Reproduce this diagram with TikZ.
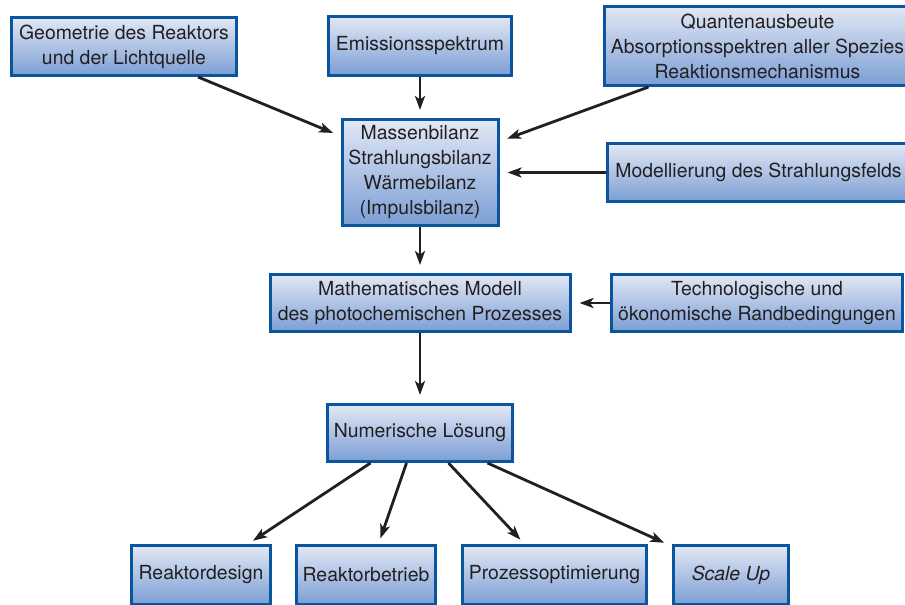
\documentclass[tikz,border=0pt]{standalone}
\usepackage{fontspec}
\setmainfont{TeX Gyre Heros}
\usepackage{tikz}
\usetikzlibrary{arrows.meta, positioning}
\definecolor{boxline}{HTML}{0B559F}
\definecolor{boxtop}{HTML}{E2E8F5}
\definecolor{boxbottom}{HTML}{7B9ED4}
\definecolor{ink}{HTML}{231F20}
\tikzstyle{arrow} = [line width=2.8pt, draw=ink, -{Stealth[length=14pt, width=10pt, inset=3.5pt]}, shorten >=8pt]

\begin{document}
\begin{tikzpicture}[x=1pt, y=-1pt,
		box/.style={rectangle, draw=boxline, line width=3pt, top color=boxtop, bottom color=boxbottom, text=ink, align=center, inner sep=0pt, font=\fontsize{19.4}{25}\selectfont},
		result/.style={box, minimum height=59pt}]
		\clip (0,0) rectangle (905,605);
		
		\node (geo) [box, minimum width=225pt, minimum height=58pt] at (124,46.5) {Geometrie des Reaktors\\und der Lichtquelle};
		\node (emis) [box, minimum width=183pt, minimum height=59pt] at (420,46) {Emissionsspektrum};
		\node (quant) [box, minimum width=306pt, minimum height=79pt] at (757.5,46) {Quantenausbeute\\Absorptionsspektren aller Spezies\\Reaktionsmechanismus};
		\node (bilanz) [box, minimum width=156pt, minimum height=106pt] at (420,172.5) {Massenbilanz\\Strahlungsbilanz\\Wärmebilanz\\(Impulsbilanz)};
		\node (feld) [box, minimum width=302pt, minimum height=58pt] at (758.5,172.5) {Modellierung des Strahlungsfelds};
		\node (modell) [box, minimum width=300pt, minimum height=57pt] at (420,303) {Mathematisches Modell\\des photochemischen Prozesses};
		\node (rand) [box, minimum width=291pt, minimum height=57pt] at (757,303) {Technologische und\\ökonomische Randbedingungen};
		\node (loesung) [box, minimum width=185pt, minimum height=57pt] at (420,433) {Numerische Lösung};
		
		\node (design) [result, minimum width=139pt] at (201,575) {Reaktordesign};
		\node (betrieb) [result, minimum width=139pt, right=23pt of design] {Reaktorbetrieb};
		\node (optim) [result, minimum width=184pt, right=24pt of betrieb] {Prozessoptimierung};
		\node (scaleup) [result, minimum width=115pt, right=24pt of optim] {\textit{Scale Up}};
		
		\draw [arrow] ([xshift=74pt]geo.south) -- ([yshift=-18pt]bilanz.north west);
		\draw [arrow] (emis.south) -- (bilanz.north);
		\draw [arrow] ([xshift=45.5pt]quant.south west) -- ([yshift=-23.5pt]bilanz.north east);
		\draw [arrow] (feld.west) -- (bilanz.east);
		\draw [arrow] (bilanz.south) -- (modell.north);
		\draw [arrow] (rand.west) -- (modell.east);
		\draw [arrow] (modell.south) -- (loesung.north);
		
		\draw [arrow, shorten >=6pt] ([xshift=44.5pt]loesung.south west) -- ([xshift=47pt]design.north);
		\draw [arrow, shorten >=6pt] ([xshift=80.5pt]loesung.south west) -- ([xshift=12.5pt]betrieb.north);
		\draw [arrow, shorten >=6pt] ([xshift=122.5pt]loesung.south west) -- ([xshift=-30pt]optim.north);
		\draw [arrow, shorten >=3pt] ([xshift=161.5pt]loesung.south west) -- ([xshift=-5pt]scaleup.north west);
	\end{tikzpicture}
\end{document}
